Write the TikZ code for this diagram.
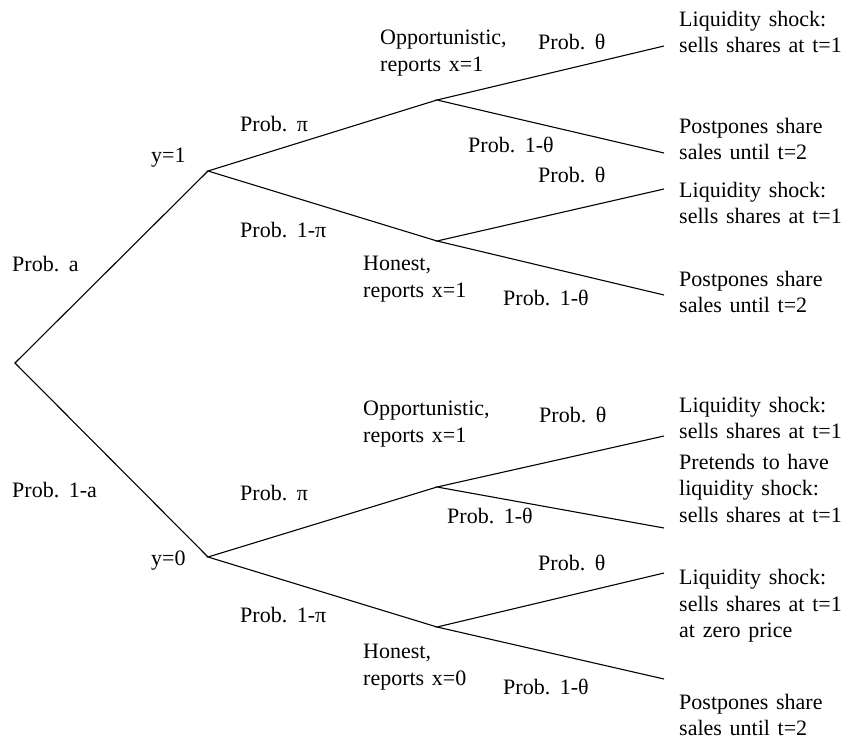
\documentclass[tikz,border=0pt]{standalone}
\usepackage{fontspec}
\setmainfont[WordSpace=1.4]{Liberation Serif}
\begin{document}
\begin{tikzpicture}[x=1pt,y=-1pt,
  lbl/.style={anchor=west,inner sep=0pt,align=left,font=\fontsize{22}{26.5}\selectfont},
  branch/.style={line width=1.1pt,line join=miter}]
\useasboundingbox (0,0) rectangle (842,741);
% branch points
\coordinate (root) at (15,363);
\coordinate (y1) at (208,171);
\coordinate (y0) at (208,557);
\coordinate (o1) at (437,100);
\coordinate (h1) at (437,241);
\coordinate (o0) at (437,487);
\coordinate (h0) at (437,627);
\coordinate (e1) at (664,46);
\coordinate (e2) at (664,153);
\coordinate (e3) at (664,189);
\coordinate (e4) at (664,295);
\coordinate (e5) at (664,436);
\coordinate (e6) at (664,528);
\coordinate (e7) at (664,573);
\coordinate (e8) at (664,679);
% branches
\draw[branch] (y1) -- (root) -- (y0);
\draw[branch] (o1) -- (y1) -- (h1);
\draw[branch] (o0) -- (y0) -- (h0);
\draw[branch] (e1) -- (o1) -- (e2);
\draw[branch] (e3) -- (h1) -- (e4);
\draw[branch] (e5) -- (o0) -- (e6);
\draw[branch] (e7) -- (h0) -- (e8);
% first level labels
\node[lbl] (pa) at (12,264) {Prob. a};
\node[lbl] (p1a) at (12,490) {Prob. 1-a};
\node[lbl] (ty1) at (151,158) {y=1};
\node[lbl] (ty0) at (151,561) {y=0};
% second level labels
\node[lbl] (ppi1) at (240,124) {Prob. π};
\node[lbl] (p1pi1) at (240,230) {Prob. 1-π};
\node[lbl] (ppi0) at (240,493) {Prob. π};
\node[lbl] (p1pi0) at (240,615) {Prob. 1-π};
% type labels
\node[lbl] (opp1) at (380,53) {Opportunistic,\\reports x=1};
\node[lbl] (hon1) at (363,279) {Honest,\\reports x=1};
\node[lbl] (opp0) at (363,424) {Opportunistic,\\reports x=1};
\node[lbl] (hon0) at (363,667) {Honest,\\reports x=0};
% third level labels
\node[lbl] (pt1) at (538,42) {Prob. θ};
\node[lbl] (p1t1) at (468,145) {Prob. 1-θ};
\node[lbl] (pt2) at (538,175) {Prob. θ};
\node[lbl] (p1t2) at (503,298) {Prob. 1-θ};
\node[lbl] (pt3) at (539,415) {Prob. θ};
\node[lbl] (p1t3) at (447,516) {Prob. 1-θ};
\node[lbl] (pt4) at (538,563) {Prob. θ};
\node[lbl] (p1t4) at (503,687) {Prob. 1-θ};
% outcomes
\node[lbl] (out1) at (679,32) {Liquidity shock:\\sells shares at t=1};
\node[lbl] (out2) at (679,139) {Postpones share\\sales until t=2};
\node[lbl] (out3) at (679,203) {Liquidity shock:\\sells shares at t=1};
\node[lbl] (out4) at (679,292) {Postpones share\\sales until t=2};
\node[lbl] (out5) at (679,418) {Liquidity shock:\\sells shares at t=1};
\node[lbl] (out6) at (679,488) {Pretends to have\\liquidity shock:\\sells shares at t=1};
\node[lbl] (out7) at (679,606) {Liquidity shock:\\sells shares at t=1\\at zero price};
\node[lbl] (out8) at (679,715) {Postpones share\\sales until t=2};
\end{tikzpicture}
\end{document}
